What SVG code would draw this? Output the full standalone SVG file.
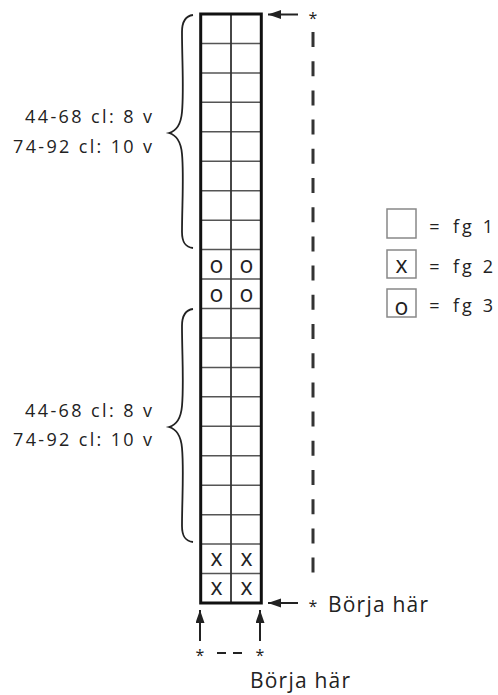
<svg xmlns="http://www.w3.org/2000/svg" width="498" height="695" viewBox="0 0 498 695">
<style>
text{font-family:"Open Sans","Noto Sans","Liberation Sans",sans-serif;fill:#222}
.lbl{font-size:18px}
.big{font-size:21px}
.sym{font-size:23px;text-anchor:middle}
.ast{font-size:16px;text-anchor:middle}
.rowl{stroke:#555;stroke-width:1.5}
.brace{fill:none;stroke:#222;stroke-width:1.8}
.arr{stroke:#222;stroke-width:2;marker-end:url(#ah)}
.box{fill:#fff;stroke:#888;stroke-width:1.5}
</style>
<defs>
<marker id="ah" markerUnits="userSpaceOnUse" markerWidth="14" markerHeight="10" refX="13" refY="4.5" orient="auto">
<path d="M0,0 L13,4.5 L0,9 z" fill="#222"/>
</marker>
<path id="br" class="brace" d="M193,15 C185,16 182,22 182,32 C182,60 184,90 182,112 C181,124 176,131 169,133 C176,135 181,142 182,154 C184,176 182,206 182,232 C182,242 185,247 193,248"/>
</defs>
<rect width="498" height="695" fill="#fff"/>
<g id="grid">
<g>
<line class="rowl" x1="201" x2="261" y1="43.45" y2="43.45"/>
<line class="rowl" x1="201" x2="261" y1="72.9" y2="72.9"/>
<line class="rowl" x1="201" x2="261" y1="102.35" y2="102.35"/>
<line class="rowl" x1="201" x2="261" y1="131.8" y2="131.8"/>
<line class="rowl" x1="201" x2="261" y1="161.25" y2="161.25"/>
<line class="rowl" x1="201" x2="261" y1="190.7" y2="190.7"/>
<line class="rowl" x1="201" x2="261" y1="220.15" y2="220.15"/>
<line class="rowl" x1="201" x2="261" y1="249.6" y2="249.6"/>
<line class="rowl" x1="201" x2="261" y1="279.05" y2="279.05"/>
<line class="rowl" x1="201" x2="261" y1="308.5" y2="308.5"/>
<line class="rowl" x1="201" x2="261" y1="337.95" y2="337.95"/>
<line class="rowl" x1="201" x2="261" y1="367.4" y2="367.4"/>
<line class="rowl" x1="201" x2="261" y1="396.85" y2="396.85"/>
<line class="rowl" x1="201" x2="261" y1="426.3" y2="426.3"/>
<line class="rowl" x1="201" x2="261" y1="455.75" y2="455.75"/>
<line class="rowl" x1="201" x2="261" y1="485.2" y2="485.2"/>
<line class="rowl" x1="201" x2="261" y1="514.65" y2="514.65"/>
<line class="rowl" x1="201" x2="261" y1="544.1" y2="544.1"/>
<line class="rowl" x1="201" x2="261" y1="573.55" y2="573.55"/>
</g>
<line x1="231" x2="231" y1="14" y2="603" stroke="#333" stroke-width="1.8"/>
<rect x="200.7" y="14" width="60.6" height="589" fill="none" stroke="#111" stroke-width="3"/>
<text class="sym" x="216.5" y="273">o</text>
<text class="sym" x="246.5" y="273">o</text>
<text class="sym" x="216.5" y="302">o</text>
<text class="sym" x="246.5" y="302">o</text>
<text class="sym" x="216.5" y="566">x</text>
<text class="sym" x="246.5" y="566">x</text>
<text class="sym" x="216.5" y="595">x</text>
<text class="sym" x="246.5" y="595">x</text>
</g>
<g id="brace-top">
<use href="#br"/>
<text class="lbl" x="152" y="123" text-anchor="end" textLength="127" lengthAdjust="spacing">44-68 cl: 8 v</text>
<text class="lbl" x="152" y="153" text-anchor="end" textLength="139" lengthAdjust="spacing">74-92 cl: 10 v</text>
</g>
<g id="brace-bottom">
<use href="#br" transform="translate(0,294)"/>
<text class="lbl" x="152" y="417" text-anchor="end" textLength="127" lengthAdjust="spacing">44-68 cl: 8 v</text>
<text class="lbl" x="152" y="446" text-anchor="end" textLength="139" lengthAdjust="spacing">74-92 cl: 10 v</text>
</g>
<g id="legend-fg1">
<rect class="box" x="387" y="209" width="29" height="29"/>
<text class="lbl" x="434.5" y="233" text-anchor="middle">=</text>
<text class="lbl" x="453" y="233" textLength="40" lengthAdjust="spacing">fg 1</text>
</g>
<g id="legend-fg2">
<rect class="box" x="387" y="250" width="29" height="28"/>
<text class="sym" x="401.5" y="273">x</text>
<text class="lbl" x="434.5" y="273" text-anchor="middle">=</text>
<text class="lbl" x="453" y="273" textLength="40" lengthAdjust="spacing">fg 2</text>
</g>
<g id="legend-fg3">
<rect class="box" x="387" y="289" width="29" height="28"/>
<text class="sym" x="401.5" y="315">o</text>
<text class="lbl" x="434.5" y="312" text-anchor="middle">=</text>
<text class="lbl" x="453" y="312" textLength="40" lengthAdjust="spacing">fg 3</text>
</g>
<g id="start-right">
<text class="ast" x="313" y="612">*</text>
<text class="big" x="328" y="612" textLength="100" lengthAdjust="spacing">Börja här</text>
</g>
<g id="start-bottom">
<text class="ast" x="200" y="661">*</text>
<text class="ast" x="260" y="661">*</text>
<line x1="217" x2="242" y1="653" y2="653" stroke="#222" stroke-width="2" stroke-dasharray="9 7"/>
<text class="big" x="250" y="688" textLength="100" lengthAdjust="spacing">Börja här</text>
</g>
<g id="top-mark">
<text class="ast" x="313" y="24">*</text>
</g>
<g id="connectors">
<line class="arr" x1="298" y1="14.5" x2="268" y2="14.5"/>
<line class="arr" x1="298" y1="603" x2="268" y2="603"/>
<line class="arr" x1="200" y1="641" x2="200" y2="610"/>
<line class="arr" x1="260" y1="641" x2="260" y2="610"/>
<line x1="313" y1="32" x2="313" y2="577" stroke="#333" stroke-width="3" stroke-dasharray="15 14.2"/>
</g>
</svg>
